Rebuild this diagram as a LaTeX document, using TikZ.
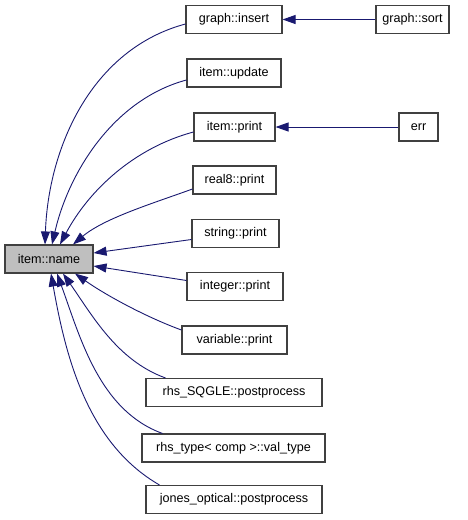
\documentclass[tikz,border=0pt]{standalone}
\usepackage{fontspec}
\setmainfont{Liberation Sans}
\usepackage{xcolor}
\usepackage{tikz}
\usetikzlibrary{positioning, arrows.meta}
\definecolor{edgeblue}{HTML}{191970}
\definecolor{boxgray}{HTML}{BFBFBF}
\definecolor{boxline}{HTML}{404040}
\tikzset{
  fn/.style={draw=boxline, line width=1.1pt, fill=white, inner xsep=4pt, inner ysep=0pt,
        minimum height=28pt, font=\fontsize{12.6}{15}\selectfont},
  callarrow/.style={-{Triangle[length=13pt, width=9pt]}, edgeblue, line width=0.9pt}
}

\begin{document}
\begin{tikzpicture}[x=1pt, y=-1pt]
  \useasboundingbox (0,0) rectangle (467,520);
  \node (name) [fn, fill=boxgray, minimum width=88pt] at (49,259) {item::name};
  \node (insert) [fn, minimum width=96pt] at (234,19.5) {graph::insert};
  \node (sort) [fn, minimum width=73pt] at (412.5,19.5) {graph::sort};
  \node (update) [fn, minimum width=94pt] at (234,73) {item::update};
  \node (iprint) [fn, minimum width=81pt] at (234.5,127) {item::print};
  \node (err) [fn, minimum width=39pt] at (418.5,127) {err};
  \node (real8) [fn, minimum width=83pt] at (234.5,180) {real8::print};
  \node (string) [fn, minimum width=87pt] at (235.5,233.5) {string::print};
  \node (integer) [fn, minimum width=96pt] at (235,286.5) {integer::print};
  \node (variable) [fn, minimum width=105pt] at (234.5,340) {variable::print};
  \node (sqgle) [fn, minimum width=176pt] at (234,392.5) {rhs\_SQGLE::postprocess};
  \node (rhstype) [fn, minimum width=183pt] at (233.5,448) {rhs\_type< comp >::val\_type};
  \node (jones) [fn, minimum width=176pt] at (234,499.5) {jones\_optical::postprocess};
  % second level callers
  \draw[callarrow] (sort) -- (insert);
  \draw[callarrow] (err) -- (iprint);
  % callers above
  \draw[callarrow] ([yshift=-4.5pt]insert.west) to[out=195, in=88, looseness=0.95] ([xshift=-4pt]name.north);
  \draw[callarrow] ([yshift=-7pt]update.west) to[out=195, in=77, looseness=0.9] ([xshift=3pt]name.north);
  \draw[callarrow] ([yshift=-5pt]iprint.west) to[out=195, in=62, looseness=0.9] ([xshift=11pt]name.north);
  \draw[callarrow] ([yshift=-9pt]real8.west) to[out=200, in=40, looseness=0.8] ([xshift=24pt]name.north);
  % callers beside
  \draw[callarrow] ([yshift=-6pt]string.west) -- ([yshift=6pt]name.east);
  \draw[callarrow] ([yshift=6pt]integer.west) -- ([yshift=-7pt]name.east);
  % callers below
  \draw[callarrow] ([yshift=10pt]variable.west) to[out=160, in=-35, looseness=0.8] ([xshift=26pt]name.south);
  \draw[callarrow] ([xshift=20pt]sqgle.north west) to[out=160, in=-55, looseness=0.9] ([xshift=14pt]name.south);
  \draw[callarrow] ([xshift=21pt]rhstype.north west) to[out=160, in=-70, looseness=0.9] ([xshift=8pt]name.south);
  \draw[callarrow] ([xshift=14pt]jones.north west) to[out=150, in=-80, looseness=0.9] ([xshift=2pt]name.south);
\end{tikzpicture}
\end{document}
